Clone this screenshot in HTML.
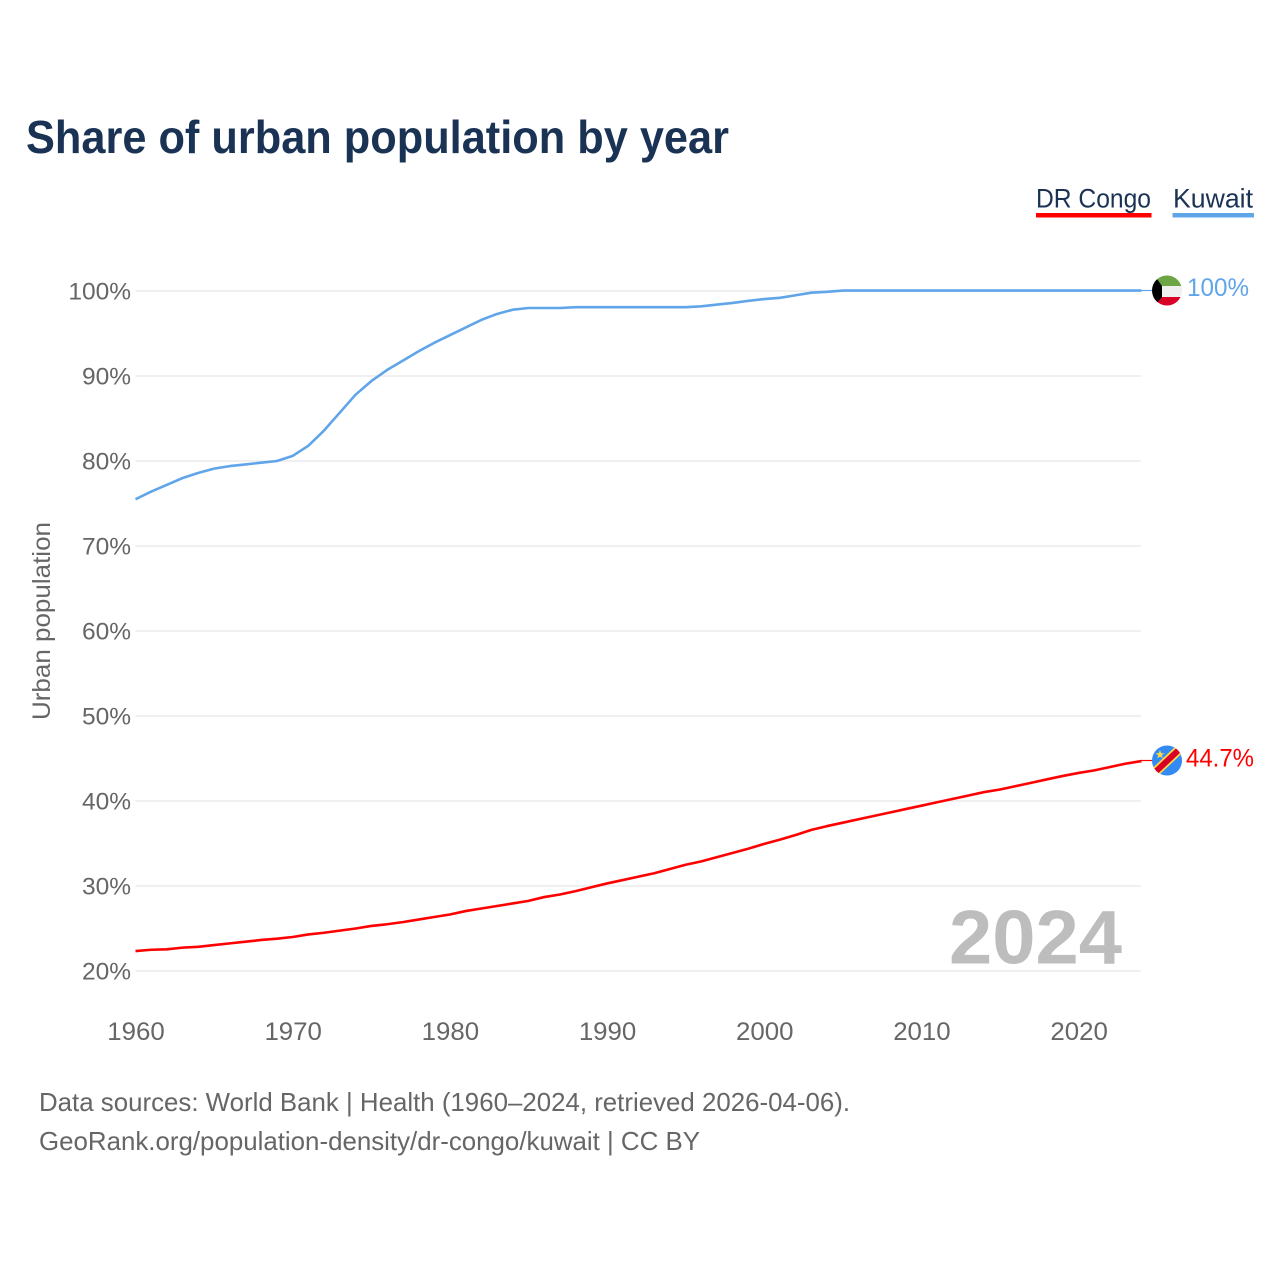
<!DOCTYPE html>
<html lang="en">
<head>
<meta charset="utf-8">
<title>Share of urban population by year</title>
<style>
html,body{margin:0;padding:0;background:#fff}
svg{display:block}
text{font-family:"Liberation Sans",sans-serif}
</style>
</head>
<body>
<svg id="chart" xmlns="http://www.w3.org/2000/svg" width="1280" height="1280" viewBox="0 0 1280 1280">
  <rect width="1280" height="1280" fill="#fff"/>
  <text x="26" y="153" font-size="46" font-weight="700" fill="#1a3354" textLength="703" lengthAdjust="spacingAndGlyphs">Share of urban population by year</text>

  <g>
    <g>
      <text x="1036" y="207.5" font-size="27" fill="#1a3354" textLength="115" lengthAdjust="spacingAndGlyphs">DR Congo</text>
      <rect x="1036" y="213" width="115.5" height="4.5" fill="#ff0000"/>
    </g>
    <g>
      <text x="1173" y="207.5" font-size="27" fill="#1a3354" textLength="80" lengthAdjust="spacingAndGlyphs">Kuwait</text>
      <rect x="1172.5" y="213" width="81.5" height="4.5" fill="#60a5ea"/>
    </g>
  </g>

  <g id="grid"></g>
  <g id="yticks"></g>
  <g id="xticks"></g>

  <text transform="translate(50 621) rotate(-90)" text-anchor="middle" font-size="25" fill="#666" textLength="198" lengthAdjust="spacingAndGlyphs">Urban population</text>

  <text x="949" y="963.5" font-size="76" font-weight="700" fill="#bdbdbd" textLength="173" lengthAdjust="spacingAndGlyphs">2024</text>

  <g id="series"></g>

  <g>
    <line x1="1141" y1="290.5" x2="1153" y2="290.5" stroke="#60a5ea" stroke-width="1.2"/>
    <clipPath id="clip-kw"><circle cx="1167" cy="290.5" r="15"/></clipPath>
    <g clip-path="url(#clip-kw)">
      <rect x="1152" y="275.5" width="30" height="10.5" fill="#6da544"/>
      <rect x="1152" y="286" width="30" height="11" fill="#f0f0f0"/>
      <rect x="1152" y="297" width="30" height="8.5" fill="#d80027"/>
      <polygon points="1152,272 1152,309 1162,297 1162,286" fill="#000"/>
    </g>
    <text x="1187" y="296" font-size="25" fill="#60a5ea" textLength="62" lengthAdjust="spacingAndGlyphs">100%</text>
  </g>

  <g>
    <line x1="1141" y1="760.5" x2="1153" y2="760.5" stroke="#ff0000" stroke-width="1.2"/>
    <clipPath id="clip-cd"><circle cx="1167" cy="760.5" r="15"/></clipPath>
    <g clip-path="url(#clip-cd)">
      <rect x="1152" y="745.5" width="30" height="30" fill="#338af3"/>
      <line x1="1150" y1="777" x2="1184" y2="745" stroke="#ffda44" stroke-width="9.5"/>
      <line x1="1150" y1="777" x2="1184" y2="745" stroke="#d80027" stroke-width="6"/>
      <polygon points="1160,750 1161.2,753.2 1164.5,753.2 1161.8,755.2 1162.8,758.4 1160,756.5 1157.2,758.4 1158.2,755.2 1155.5,753.2 1158.8,753.2" fill="#ffda44"/>
    </g>
    <text x="1186" y="766.5" font-size="25" fill="#ff0000" textLength="68" lengthAdjust="spacingAndGlyphs">44.7%</text>
  </g>

  <text x="39" y="1111" font-size="26" fill="#666" textLength="811" lengthAdjust="spacingAndGlyphs">Data sources: World Bank | Health (1960–2024, retrieved 2026-04-06).</text>
  <text x="39" y="1150" font-size="26" fill="#666" textLength="661" lengthAdjust="spacingAndGlyphs">GeoRank.org/population-density/dr-congo/kuwait | CC BY</text>
</svg>
<script>
const years = [1960,1961,1962,1963,1964,1965,1966,1967,1968,1969,1970,1971,1972,1973,1974,1975,1976,1977,1978,1979,1980,1981,1982,1983,1984,1985,1986,1987,1988,1989,1990,1991,1992,1993,1994,1995,1996,1997,1998,1999,2000,2001,2002,2003,2004,2005,2006,2007,2008,2009,2010,2011,2012,2013,2014,2015,2016,2017,2018,2019,2020,2021,2022,2023,2024];
const kuwaitValues = [75.5,76.4,77.2,78,78.6,79.1,79.4,79.6,79.8,80,80.6,81.8,83.6,85.7,87.8,89.4,90.7,91.8,92.9,93.9,94.8,95.7,96.6,97.3,97.8,98,98,98,98.1,98.1,98.1,98.1,98.1,98.1,98.1,98.1,98.2,98.4,98.6,98.85,99.05,99.2,99.5,99.8,99.9,100.05,100.05,100.05,100.05,100.05,100.05,100.05,100.05,100.05,100.05,100.05,100.05,100.05,100.05,100.05,100.05,100.05,100.05,100.05,100.05];
const congoValues = [22.35,22.5,22.55,22.75,22.85,23.05,23.25,23.45,23.65,23.8,24,24.3,24.5,24.75,25,25.3,25.5,25.75,26.05,26.35,26.65,27.05,27.35,27.65,27.95,28.25,28.7,29,29.4,29.85,30.3,30.7,31.1,31.5,32,32.5,32.9,33.4,33.9,34.4,34.95,35.45,36,36.6,37.05,37.45,37.85,38.25,38.65,39.05,39.45,39.85,40.25,40.65,41.05,41.35,41.75,42.15,42.55,42.95,43.3,43.6,44,44.4,44.7];
const yTickValues = [20,30,40,50,60,70,80,90,100];
const xTickValues = [1960,1970,1980,1990,2000,2010,2020];

const NS = 'http://www.w3.org/2000/svg';
const xScale = function (year) { return 135.5 + (year - 1960) * (1141.5 - 135.5) / 64; };
const yScale = function (value) { return 971 - (value - 20) * 8.5; };

function make(tag, attrs, parent) {
  const el = document.createElementNS(NS, tag);
  Object.keys(attrs).forEach(function (k) { el.setAttribute(k, attrs[k]); });
  parent.appendChild(el);
  return el;
}

const grid = document.getElementById('grid');
const yTicks = document.getElementById('yticks');
yTickValues.forEach(function (v) {
  const line = make('line', {x1: 135.5, x2: 1141, y1: yScale(v), y2: yScale(v), stroke: '#ececec', 'stroke-width': 1.5}, grid);
  
  
  const label = make('text', {x: 131, y: yScale(v) + 8.5, 'text-anchor': 'end', 'font-size': 24.5, fill: '#666'}, yTicks);
  
  
  label.textContent = v + '%';
});

const xTicks = document.getElementById('xticks');
xTickValues.forEach(function (v) {
  const label = make('text', {x: xScale(v) + 0.5, y: 1040, 'text-anchor': 'middle', 'font-size': 25, fill: '#666', textLength: 57.5, lengthAdjust: 'spacingAndGlyphs'}, xTicks);
  
  
  label.textContent = v;
});

function pathFor(values) {
  return values.map(function (v, i) {
    return (i ? 'L' : 'M') + xScale(years[i]).toFixed(2) + ' ' + yScale(v).toFixed(2);
  }).join(' ');
}

const series = document.getElementById('series');
const kuwaitLine = make('path', {d: pathFor(kuwaitValues), fill: 'none', stroke: '#60a5ea', 'stroke-width': 2.6, 'stroke-linejoin': 'round'}, series);


const congoLine = make('path', {d: pathFor(congoValues), fill: 'none', stroke: '#ff0000', 'stroke-width': 2.6, 'stroke-linejoin': 'round'}, series);


</script>
</body>
</html>
